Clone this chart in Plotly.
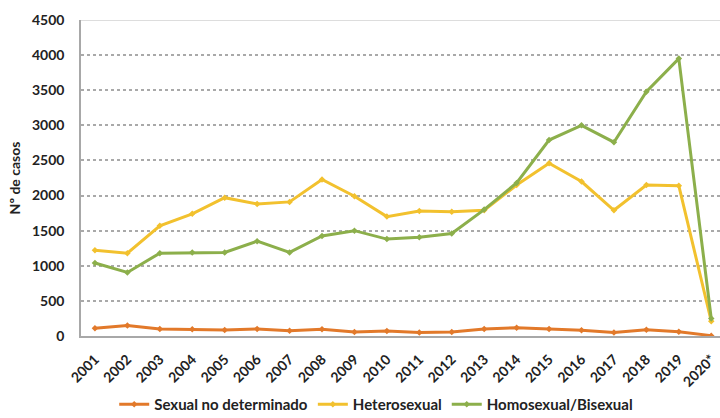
import plotly.graph_objects as go

years = ["2001", "2002", "2003", "2004", "2005", "2006", "2007", "2008", "2009", "2010",
         "2011", "2012", "2013", "2014", "2015", "2016", "2017", "2018", "2019", "2020*"]
sexual_no_det = [110, 150, 100, 95, 85, 100, 75, 95, 57, 71,
                 50, 57, 100, 118, 100, 82, 50, 90, 62, 5]
heterosexual = [1220, 1180, 1570, 1740, 1970, 1880, 1910, 2230, 1990, 1700,
                1780, 1770, 1790, 2150, 2460, 2200, 1790, 2150, 2140, 210]
homo_bisexual = [1040, 905, 1180, 1190, 1190, 1350, 1190, 1425, 1500, 1380,
                 1405, 1460, 1800, 2180, 2790, 3000, 2760, 3480, 3950, 250]

series = [
    ("Sexual no determinado", sexual_no_det, "#E2792A"),
    ("Heterosexual", heterosexual, "#F2C12E"),
    ("Homosexual/Bisexual", homo_bisexual, "#8CAF4B"),
]

fig = go.Figure()
for name, vals, col in series:
    fig.add_trace(go.Scatter(
        x=years, y=vals, name=name, mode="lines+markers",
        line=dict(color=col, width=3),
        marker=dict(color=col, size=5, symbol="diamond"),
    ))

font_fam = "Lato, 'Open Sans', sans-serif"
fig.update_layout(
    width=720, height=418,
    margin=dict(l=81, r=0, t=20, b=82, autoexpand=False),
    paper_bgcolor="white", plot_bgcolor="white",
    font=dict(family=font_fam, size=12, color="#222222"),
    showlegend=True,
    legend=dict(orientation="h", x=0.462, xanchor="center",
                yref="container", y=0.032, yanchor="middle",
                font=dict(size=15, color="#222222", weight="bold"),
                itemwidth=30, tracegroupgap=0),
    xaxis=dict(
        type="category", range=[-0.43, 19.27], automargin=False,
        showgrid=False, showline=True, linecolor="#A8A8A8", linewidth=1.5,
        ticks="", tickangle=-45, ticklabelstandoff=8,
        tickfont=dict(size=14, color="#222222", weight="bold"),
    ),
    yaxis=dict(
        range=[0, 4500], tickvals=list(range(0, 4501, 500)), automargin=False,
        showgrid=True, gridcolor="#A9A9A9", griddash="dot", gridwidth=1.5,
        showline=True, linecolor="#A8A8A8", linewidth=1.5, zeroline=False,
        ticks="", ticklabelstandoff=12,
        tickfont=dict(size=14, color="#222222", weight="bold"),
        title=dict(text="Nº de casos", font=dict(size=14, color="#222222", weight="bold"),
                   standoff=8),
    ),
)
fig.add_shape(type="line", xref="paper", yref="y", x0=0, x1=1, y0=4500, y1=4500,
              line=dict(color="#DDDDDD", width=2))

fig.write_html("out.html")
